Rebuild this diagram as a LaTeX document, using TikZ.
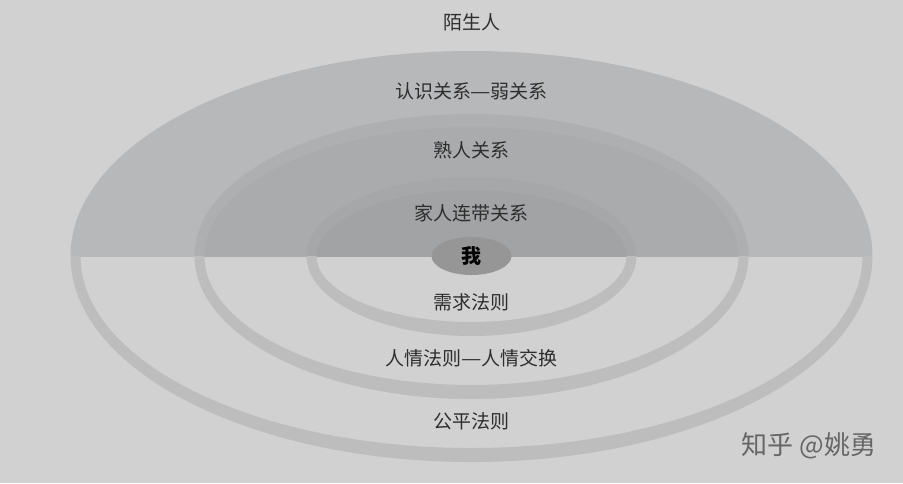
\documentclass[tikz,border=0pt]{standalone}
\usepackage{fontspec}
\usepackage{graphicx}
\setmainfont{Noto Sans CJK SC}
\definecolor{bgc}{HTML}{D1D1D1}
\definecolor{outerc}{HTML}{B7B8B9}
\definecolor{midc}{HTML}{AAABAC}
\definecolor{innerc}{HTML}{A2A3A4}
\definecolor{mec}{HTML}{969696}
\definecolor{ringc}{HTML}{BDBDBD}
\definecolor{txtc}{HTML}{2E2E2E}
\definecolor{wmc}{HTML}{666666}
\newcommand{\wdash}{\makebox[1.05em][c]{\scalebox{1.2}[1]{—}}}
\tikzset{
  lbl/.style={font=\fontsize{19}{19}\selectfont, text=txtc, inner sep=0pt},
  melbl/.style={font=\fontsize{20}{20}\selectfont\bfseries, text=black, inner sep=0pt},
  wmlbl/.style={font=\fontsize{26}{26}\selectfont, text=wmc, inner sep=0pt},
  ringfill/.style={fill=ringc, even odd rule},
  ringtop/.style={fill=white, fill opacity=0.05, even odd rule}
}
\begin{document}
\begin{tikzpicture}[x=1pt,y=-1pt]
\useasboundingbox (0,0) rectangle (903,483);
\fill[bgc] (0,0) rectangle (903,483);
\coordinate (c) at (471.5,256);
% top half fills
\begin{scope}
  \clip (0,0) rectangle (903,256);
  \fill[outerc] (c) ellipse [x radius=401pt, y radius=205pt];
  \fill[midc] (c) ellipse [x radius=277pt, y radius=142pt];
  \fill[innerc] (c) ellipse [x radius=165pt, y radius=79pt];
  \fill[ringtop] (c) ellipse [x radius=277pt, y radius=142pt] (c) ellipse [x radius=267pt, y radius=129pt];
  \fill[ringtop] (c) ellipse [x radius=165pt, y radius=79pt] (c) ellipse [x radius=155pt, y radius=66pt];
\end{scope}
% bottom half rings
\begin{scope}
  \clip (0,256) rectangle (903,483);
  \fill[ringfill] (c) ellipse [x radius=401pt, y radius=206pt] (c) ellipse [x radius=391pt, y radius=192pt];
  \fill[ringfill] (c) ellipse [x radius=277pt, y radius=143pt] (c) ellipse [x radius=267pt, y radius=129pt];
  \fill[ringfill] (c) ellipse [x radius=165pt, y radius=80pt] (c) ellipse [x radius=155pt, y radius=66pt];
\end{scope}
% centre
\fill[mec] (c) ellipse [x radius=40pt, y radius=19pt];
\node[melbl] (me) at (c) {我};
% labels
\node[lbl] (stranger) at (471.5,22) {陌生人};
\node[lbl] (weak) at (471.5,91) {认识关系\wdash 弱关系};
\node[lbl] (acq) at (471.5,150) {熟人关系};
\node[lbl] (family) at (471.5,213) {家人连带关系};
\node[lbl] (need) at (471.5,302) {需求法则};
\node[lbl] (favor) at (471.5,358) {人情法则\wdash 人情交换};
\node[lbl] (fair) at (471.5,421) {公平法则};
\node[wmlbl] (wm) at (809,446) {知乎 @姚勇};
\end{tikzpicture}
\end{document}
